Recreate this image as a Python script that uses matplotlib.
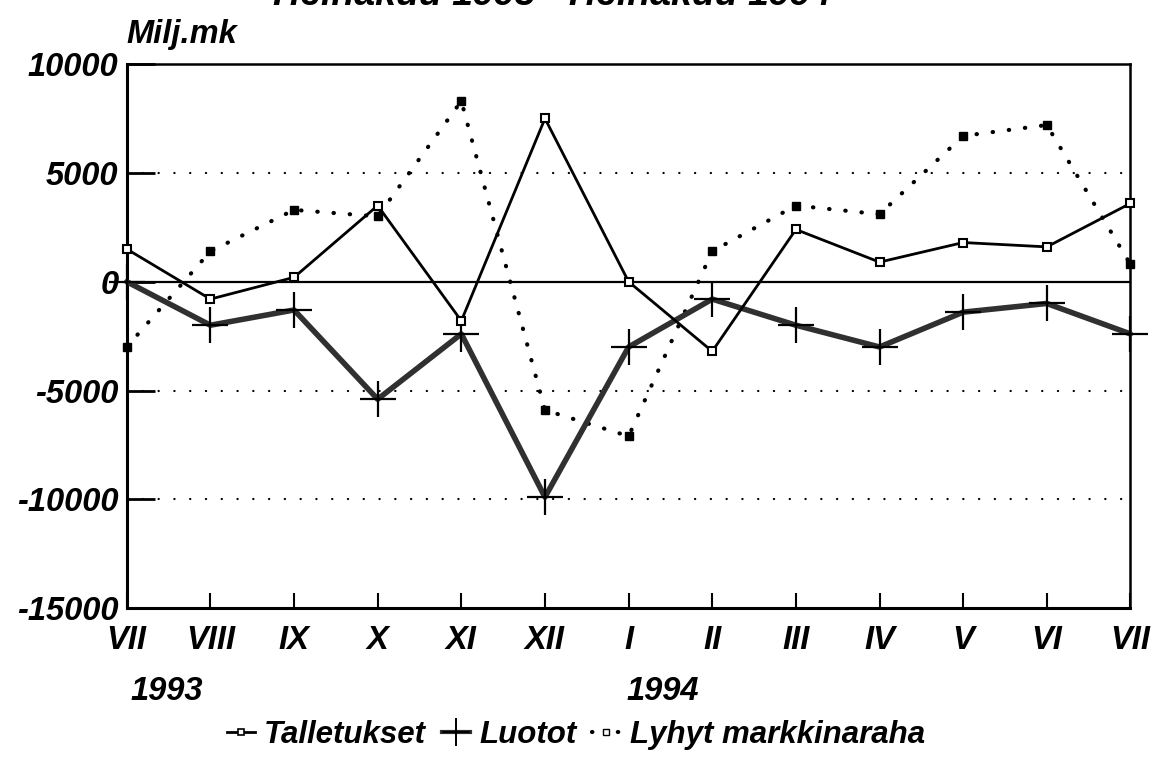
import matplotlib
matplotlib.use("Agg")
import matplotlib.pyplot as plt
from matplotlib.lines import Line2D

# monthly change, Milj.mk
months = ["VII", "VIII", "IX", "X", "XI", "XII", "I", "II", "III", "IV", "V", "VI", "VII"]
talletukset = [1500, -800, 200, 3500, -1800, 7500, 0, -3200, 2400, 900, 1800, 1600, 3600]
luotot = [0, -2000, -1300, -5400, -2400, -9900, -3000, -800, -2000, -3000, -1400, -1000, -2400]
lyhyt = [-3000, 1400, 3300, 3000, 8300, -5900, -7100, 1400, 3500, 3100, 6700, 7200, 800]
y_ticks = [10000, 5000, 0, -5000, -10000, -15000]
grid_levels = [5000, -5000, -10000]

FONT = dict(family="Liberation Sans", weight="bold", style="italic")
FS = 23.5

plt.rcParams["font.family"] = "Liberation Sans"

fig = plt.figure(figsize=(11.63, 7.63), dpi=100)
ax = fig.add_axes([0.109, 0.203, 0.863, 0.713])

x = list(range(len(months)))

for lv in grid_levels:
    ax.axhline(lv, color="black", lw=1.6, ls=(0, (0.1, 7)),
               dash_capstyle="round", zorder=1)
ax.axhline(0, color="black", lw=1.6, zorder=2)

ax.plot(x, lyhyt, color="black", lw=3.0, ls=(0, (0.1, 3.8)),
        dash_capstyle="round", marker="s", ms=6, mfc="black", mec="black",
        clip_on=False, zorder=3)
ax.plot(x, luotot, color="#303030", lw=4.0, solid_capstyle="round",
        marker="+", ms=26, mew=1.6, mec="black", clip_on=False, zorder=4)
ax.plot(x, talletukset, color="black", lw=2.0, marker="s", ms=5.5,
        mfc="white", mec="black", mew=1.5, clip_on=False, zorder=5)

ax.set_xlim(0, len(months) - 1)
ax.set_ylim(-15000, 10000)
ax.set_yticks(y_ticks)
ax.set_yticklabels([str(v) for v in y_ticks], fontsize=FS, **FONT)
ax.set_xticks(x)
ax.set_xticklabels(months, fontsize=FS, **FONT)
ax.tick_params(axis="y", direction="in", length=20, width=2, pad=6)
ax.tick_params(axis="x", direction="in", length=11, width=1.5, pad=12)
ax.spines["left"].set_linewidth(2.2)
ax.spines["bottom"].set_linewidth(2.2)
ax.spines["top"].set_linewidth(1.8)
ax.spines["right"].set_linewidth(1.8)

fig.text(0.109, 0.935, "Milj.mk", fontsize=FS, ha="left", va="bottom", **FONT)
fig.text(0.475, 0.994, "Heinäkuu 1993 - Heinäkuu 1994", fontsize=27,
         ha="center", va="baseline", **FONT)
fig.text(0.112, 0.083, "1993", fontsize=FS, ha="left", va="baseline", **FONT)
fig.text(0.539, 0.083, "1994", fontsize=FS, ha="left", va="baseline", **FONT)

handles = [
    Line2D([], [], color="black", lw=2.0, marker="s", ms=5, mfc="white", mew=1.2),
    Line2D([], [], color="#303030", lw=3.0, marker="+", ms=20, mew=1.4, mec="black"),
    Line2D([], [], color="black", lw=3.0, ls=(0, (0.1, 3.0)), dash_capstyle="round",
           marker="s", ms=5, mfc="white", mec="black"),
]
fig.legend(handles, ["Talletukset", "Luotot", "Lyhyt markkinaraha"],
           loc="center", bbox_to_anchor=(0.495, 0.037), ncol=3, frameon=False,
           handlelength=0.9, handletextpad=0.3, columnspacing=0.5,
           prop=dict(size=22.5, **FONT))

fig.savefig("out.png", dpi=100)
